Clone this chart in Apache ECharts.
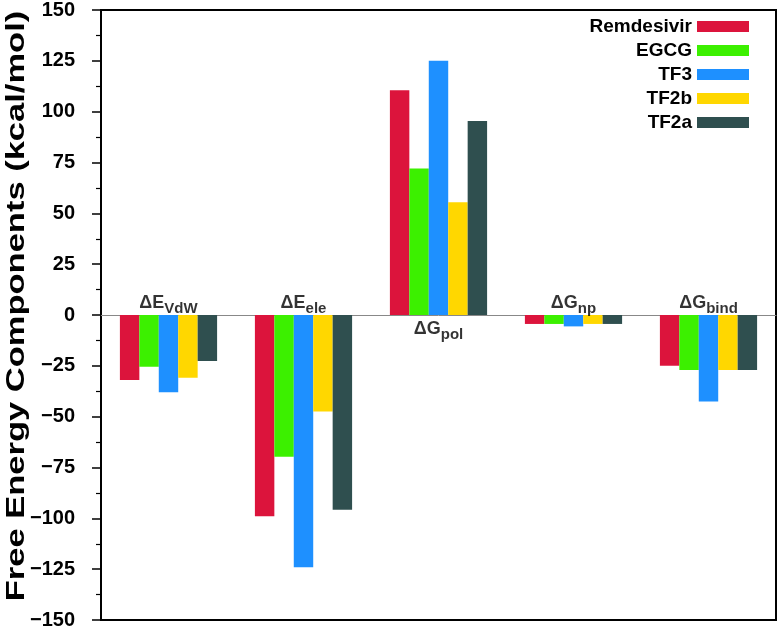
<!DOCTYPE html>
<html><head><meta charset="utf-8">
<script src="https://cdn.jsdelivr.net/npm/echarts@6/dist/echarts.min.js"></script>
<style>html,body{margin:0;padding:0;background:#fff}#c{width:780px;height:631px}</style>
</head><body><div id="c"></div>
<script>
const categories = ['VdW', 'ele', 'pol', 'np', 'bind'];
const catLabels = ['{b|ΔE}{s|VdW}', '{b|ΔE}{s|ele}', '{b|ΔG}{s|pol}', '{b|ΔG}{s|np}', '{b|ΔG}{s|bind}'];
const catLabelPos = ['top', 'top', 'bottom', 'top', 'top'];
const seriesNames = ['Remdesivir', 'EGCG', 'TF3', 'TF2b', 'TF2a'];
const colors = ['#DC143C', '#3CF000', '#1E90FF', '#FFD700', '#2F4F4F'];
const remdesivir = [-32, -99, 110.5, -4.4, -25];
const egcg = [-25.4, -69.7, 72, -4.4, -27];
const tf3 = [-38, -124, 125, -5.6, -42.5];
const tf2b = [-30.8, -47.5, 55.4, -4.4, -27];
const tf2a = [-22.6, -95.8, 95.4, -4.4, -27];
const values = [remdesivir, egcg, tf3, tf2b, tf2a];
const yAxisTitle = 'Free Energy Components (kcal/mol)';

const chart = echarts.init(document.getElementById('c'));
const font = 'Liberation Sans, Arial, Helvetica, sans-serif';
const series = seriesNames.map((n, i) => ({
  name: n, type: 'bar', data: values[i], barGap: '0%', barCategoryGap: '28%',
  itemStyle: { color: colors[i] }, z: 2
}));
series.push({
  type: 'scatter', name: 'labels', symbolSize: 1, itemStyle: { color: 'rgba(0,0,0,0)' }, z: 5,
  silent: true,
  data: categories.map((c, i) => ({
    value: [c, 0],
    label: { show: true, position: catLabelPos[i], distance: catLabelPos[i] === 'top' ? 1 : 4,
      formatter: catLabels[i],
      rich: {
        b: { fontFamily: font, fontWeight: 'bold', fontSize: 18, color: '#000', lineHeight: 20 },
        s: { fontFamily: font, fontWeight: 'bold', fontSize: 15, color: '#000', padding: [11, 0, 0, 0], lineHeight: 20 }
      }
    }
  }))
});

chart.setOption({
  animation: false,
  backgroundColor: '#fff',
  grid: { left: 101, right: 4, top: 10, bottom: 11, show: true, borderColor: '#000', borderWidth: 2,
    containLabel: false, outerBoundsMode: 'none' },
  legend: {
    data: seriesNames, orient: 'vertical', right: 26, top: 12, align: 'right',
    itemWidth: 52, itemHeight: 11, itemGap: 5, icon: 'rect',
    textStyle: { fontFamily: font, fontWeight: 'bold', fontSize: 19, color: '#000' }
  },
  graphic: [{
    type: 'text', x: 17, y: 306, rotation: Math.PI / 2, scaleX: 1.38, silent: true,
    style: { text: yAxisTitle, font: 'bold 25px ' + font, fill: '#000', textAlign: 'center', textVerticalAlign: 'middle' }
  }],
  xAxis: {
    type: 'category', data: categories,
    axisLine: { onZero: true, lineStyle: { color: '#888', width: 1 } },
    axisTick: { show: false }, axisLabel: { show: false }, splitLine: { show: false }
  },
  yAxis: {
    type: 'value', min: -150, max: 150, interval: 25,
    axisLine: { show: true, lineStyle: { color: '#000', width: 2 } },
    axisTick: { show: true, length: 9, lineStyle: { color: '#000', width: 1.5 } },
    minorTick: { show: true, splitNumber: 2, length: 5, lineStyle: { color: '#000', width: 1.2 } },
    splitLine: { show: false },
    axisLabel: { fontFamily: font, fontWeight: 'bold', fontSize: 20, color: '#000', margin: 26,
      formatter: v => String(v).replace('-', '\u2212') }
  },
  series: series
});
</script></body></html>
